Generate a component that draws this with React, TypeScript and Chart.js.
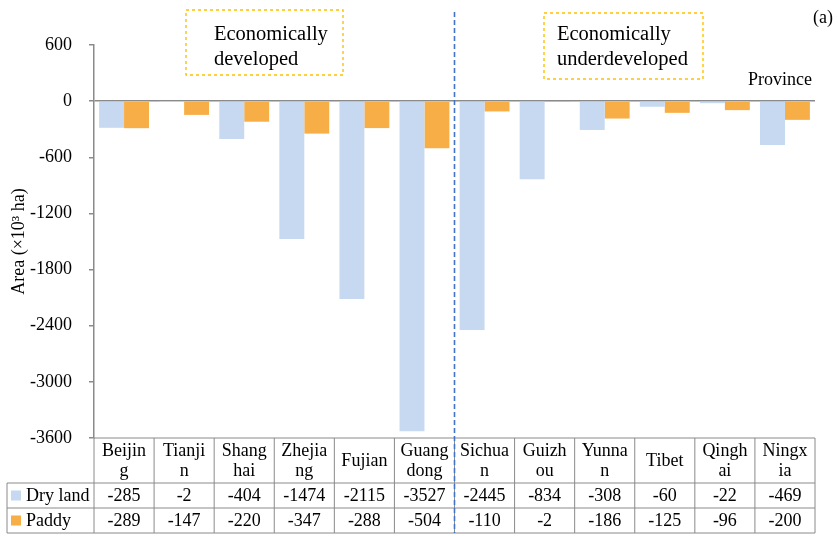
import React, { useEffect, useRef } from "react";
import { Chart, registerables } from "chart.js";

Chart.register(...registerables);

const provinces = ["Beijing", "Tianjin", "Shanghai", "Zhejiang", "Fujian", "Guangdong", "Sichuan", "Guizhou", "Yunnan", "Tibet", "Qinghai", "Ningxia"];
const tableLabels = [["Beijin", "g"], ["Tianji", "n"], ["Shang", "hai"], ["Zhejia", "ng"], ["Fujian"], ["Guang", "dong"], ["Sichua", "n"], ["Guizh", "ou"], ["Yunna", "n"], ["Tibet"], ["Qingh", "ai"], ["Ningx", "ia"]];
const dryLand = [-285, -2, -404, -1474, -2115, -3527, -2445, -834, -308, -60, -22, -469];
const paddy = [-289, -147, -220, -347, -288, -504, -110, -2, -186, -125, -96, -200];
const seriesNames = ["Dry land", "Paddy"];
const yTicks = [600, 0, -600, -1200, -1800, -2400, -3000, -3600];
const groupNames = [["Economically", "developed"], ["Economically", "underdeveloped"]];

const DRY = "#C6D9F0";
const PAD = "#F7AE47";
const GRAY = "#8a8a8a";
const FONT = '"Liberation Serif", "Times New Roman", serif';

const overlayPlugin = {
  id: "overlay",
  afterDraw(chart: any) {
    const { ctx, chartArea } = chart;
    const x = chart.scales.x;
    const n = provinces.length;
    const left = chartArea.left;
    const right = chartArea.right;
    const y0 = chartArea.bottom;
    const y1 = y0 + 45;
    const y2 = y1 + 25;
    const y3 = y2 + 25;
    const legLeft = 7;
    ctx.save();
    ctx.strokeStyle = GRAY;
    ctx.lineWidth = 1;
    const line = (ax: number, ay: number, bx: number, by: number) => {
      ctx.beginPath();
      ctx.moveTo(ax, ay);
      ctx.lineTo(bx, by);
      ctx.stroke();
    };
    line(left, y0, right, y0);
    line(legLeft, y1, right, y1);
    line(legLeft, y2, right, y2);
    line(legLeft, y3, right, y3);
    line(legLeft, y1, legLeft, y3);
    for (let i = 0; i <= n; i++) {
      const xb = i === 0 ? left : i === n ? right : (x.getPixelForValue(i - 1) + x.getPixelForValue(i)) / 2;
      line(xb, y0, xb, y3);
    }
    ctx.fillStyle = "#000";
    ctx.font = `18px ${FONT}`;
    ctx.textAlign = "center";
    ctx.textBaseline = "middle";
    for (let i = 0; i < n; i++) {
      const cx = x.getPixelForValue(i);
      const lab = tableLabels[i];
      if (lab.length === 1) {
        ctx.fillText(lab[0], cx, y0 + 23);
      } else {
        ctx.fillText(lab[0], cx, y0 + 13);
        ctx.fillText(lab[1], cx, y0 + 33);
      }
      ctx.fillText(String(dryLand[i]), cx, (y1 + y2) / 2 + 1);
      ctx.fillText(String(paddy[i]), cx, (y2 + y3) / 2 + 1);
    }
    // legend keys
    ctx.textAlign = "left";
    ctx.fillStyle = DRY;
    ctx.fillRect(11, (y1 + y2) / 2 - 5, 10, 10);
    ctx.fillStyle = PAD;
    ctx.fillRect(11, (y2 + y3) / 2 - 5, 10, 10);
    ctx.fillStyle = "#000";
    ctx.fillText(seriesNames[0], 26, (y1 + y2) / 2 + 1);
    ctx.fillText(seriesNames[1], 26, (y2 + y3) / 2 + 1);

    // dashed divider between groups
    const divX = (x.getPixelForValue(5) + x.getPixelForValue(6)) / 2;
    ctx.strokeStyle = "#4472C4";
    ctx.lineWidth = 1.6;
    ctx.setLineDash([5, 3]);
    line(divX, 12, divX, y3);

    // annotation boxes
    ctx.strokeStyle = "#FFC000";
    ctx.lineWidth = 1.4;
    ctx.setLineDash([3, 3]);
    ctx.strokeRect(186, 10, 157, 65);
    ctx.strokeRect(544, 13, 159, 66);
    ctx.setLineDash([]);
    ctx.fillStyle = "#000";
    ctx.font = `20.5px ${FONT}`;
    ctx.fillText(groupNames[0][0], 214, 35);
    ctx.fillText(groupNames[0][1], 214, 60);
    ctx.fillText(groupNames[1][0], 557, 35);
    ctx.fillText(groupNames[1][1], 557, 60);
    ctx.font = `18px ${FONT}`;
    ctx.fillText("Province", 748, 80);
    ctx.fillText("(a)", 813, 18);
    ctx.restore();
  },
};

export default function App() {
  const ref = useRef<HTMLCanvasElement | null>(null);
  useEffect(() => {
    document.body.style.margin = "0";
    const canvas = ref.current;
    if (!canvas) return;
    const chart = new Chart(canvas, {
      type: "bar",
      data: {
        labels: provinces,
        datasets: [
          { label: seriesNames[0], data: dryLand, backgroundColor: DRY, categoryPercentage: 0.83, barPercentage: 1 },
          { label: seriesNames[1], data: paddy, backgroundColor: PAD, categoryPercentage: 0.83, barPercentage: 1 },
        ],
      },
      options: {
        animation: false,
        responsive: false,
        devicePixelRatio: 1,
        layout: { padding: { left: 0, right: 23, top: 45, bottom: 98 } },
        plugins: { legend: { display: false }, tooltip: { enabled: false } },
        scales: {
          x: { display: false },
          y: {
            min: yTicks[yTicks.length - 1],
            max: yTicks[0],
            afterBuildTicks: (s: any) => {
              s.ticks = yTicks.map((v) => ({ value: v }));
            },
            afterFit: (s: any) => {
              s.width = 94;
            },
            ticks: {
              color: "#000",
              padding: 17,
              font: { family: FONT, size: 18 },
              callback: (v: any) => String(v),
            },
            grid: {
              color: (c: any) => (c.tick && c.tick.value === 0 ? GRAY : "rgba(0,0,0,0)"),
              tickColor: GRAY,
              tickLength: 5,
              lineWidth: 1.5,
            },
            border: { color: GRAY, width: 1.5 },
            title: {
              display: true,
              text: "Area (×10³ ha)",
              color: "#000",
              font: { family: FONT, size: 18 },
              padding: { top: 8, bottom: 0 },
            },
          },
        },
      },
      plugins: [overlayPlugin],
    });
    return () => chart.destroy();
  }, []);
  return (
    <div style={{ position: "absolute", left: 0, top: 0, width: 838, height: 536, background: "#fff" }}>
      <canvas ref={ref} width={838} height={536} style={{ display: "block" }} />
    </div>
  );
}
